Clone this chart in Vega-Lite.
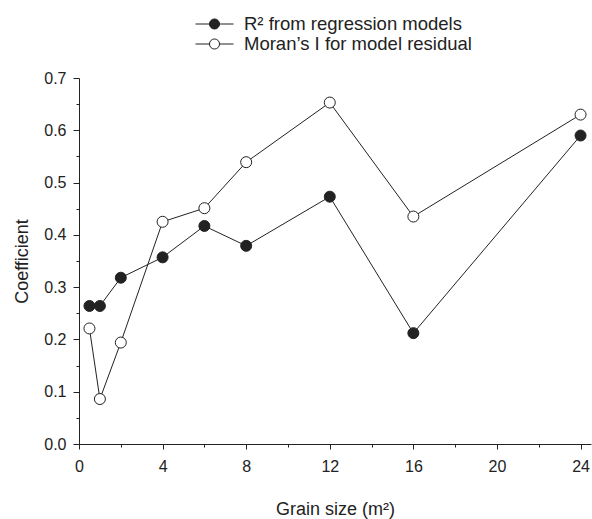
{
  "$schema": "https://vega.github.io/schema/vega-lite/v6.json",
  "autosize": "none",
  "width": 512,
  "height": 366,
  "padding": {"left": 79, "top": 78, "right": 1, "bottom": 75},
  "background": "white",
  "config": {
    "view": {"stroke": null},
    "font": "Liberation Sans",
    "axis": {"domainColor": "#222", "tickColor": "#222", "labelColor": "#222", "titleColor": "#222", "labelFontSize": 16, "titleFontSize": 18, "titleFontWeight": "normal", "grid": false, "domainWidth": 1, "tickWidth": 1}
  },
  "data": {
    "values": [
      {"grain": 0.5, "value": 0.264, "series": "R² from regression models"},
      {"grain": 1, "value": 0.264, "series": "R² from regression models"},
      {"grain": 2, "value": 0.318, "series": "R² from regression models"},
      {"grain": 4, "value": 0.357, "series": "R² from regression models"},
      {"grain": 6, "value": 0.417, "series": "R² from regression models"},
      {"grain": 8, "value": 0.379, "series": "R² from regression models"},
      {"grain": 12, "value": 0.473, "series": "R² from regression models"},
      {"grain": 16, "value": 0.212, "series": "R² from regression models"},
      {"grain": 24, "value": 0.590, "series": "R² from regression models"},
      {"grain": 0.5, "value": 0.221, "series": "Moran’s I for model residual"},
      {"grain": 1, "value": 0.086, "series": "Moran’s I for model residual"},
      {"grain": 2, "value": 0.194, "series": "Moran’s I for model residual"},
      {"grain": 4, "value": 0.425, "series": "Moran’s I for model residual"},
      {"grain": 6, "value": 0.451, "series": "Moran’s I for model residual"},
      {"grain": 8, "value": 0.539, "series": "Moran’s I for model residual"},
      {"grain": 12, "value": 0.653, "series": "Moran’s I for model residual"},
      {"grain": 16, "value": 0.435, "series": "Moran’s I for model residual"},
      {"grain": 24, "value": 0.630, "series": "Moran’s I for model residual"}
    ]
  },
  "encoding": {
    "x": {
      "field": "grain", "type": "quantitative",
      "scale": {"domain": [0, 24.5], "nice": false, "zero": false},
      "axis": {
        "title": "Grain size (m²)",
        "values": [0, 2, 4, 6, 8, 10, 12, 14, 16, 18, 20, 22, 24],
        "labelExpr": "datum.value % 4 === 0 ? datum.label : ''",
        "tickSize": {"condition": {"test": "datum.value % 4 === 0", "value": 5}, "value": 3},
        "labelPadding": 9,
        "titlePadding": 26,
        "labelFlush": false
      }
    },
    "y": {
      "field": "value", "type": "quantitative",
      "scale": {"domain": [0, 0.7], "nice": false},
      "axis": {
        "title": "Coefficient",
        "values": [0, 0.05, 0.1, 0.15, 0.2, 0.25, 0.3, 0.35, 0.4, 0.45, 0.5, 0.55, 0.6, 0.65, 0.7],
        "labelExpr": "round(datum.value*100) % 10 === 0 ? format(datum.value, '.1f') : ''",
        "tickSize": {"condition": {"test": "round(datum.value*100) % 10 === 0", "value": 6}, "value": 3},
        "labelPadding": 7,
        "titlePadding": 12
      }
    }
  },
  "layer": [
    {
      "mark": {"type": "line", "color": "#222", "strokeWidth": 1},
      "encoding": {"detail": {"field": "series"}}
    },
    {
      "mark": {"type": "point", "filled": true, "shape": "circle", "size": 121, "stroke": "#222", "strokeWidth": 1, "opacity": 1},
      "encoding": {
        "fill": {
          "field": "series", "type": "nominal",
          "scale": {"domain": ["R² from regression models", "Moran’s I for model residual"], "range": ["#222", "white"]},
          "legend": {
            "title": null,
            "orient": "none",
            "legendX": 135,
            "legendY": -64,
            "symbolType": "M-3,0H-1.53M-0.47,0H1M-1.53,0A0.53,0.53 0 1,0 -0.47,0A0.53,0.53 0 1,0 -1.53,0Z",
            "symbolSize": 361,
            "symbolStrokeColor": "#222",
            "symbolStrokeWidth": 1,
            "labelFontSize": 18.5,
            "labelColor": "#222",
            "labelOffset": 10,
            "rowPadding": -2,
            "labelLimit": 400
          }
        }
      }
    }
  ]
}
